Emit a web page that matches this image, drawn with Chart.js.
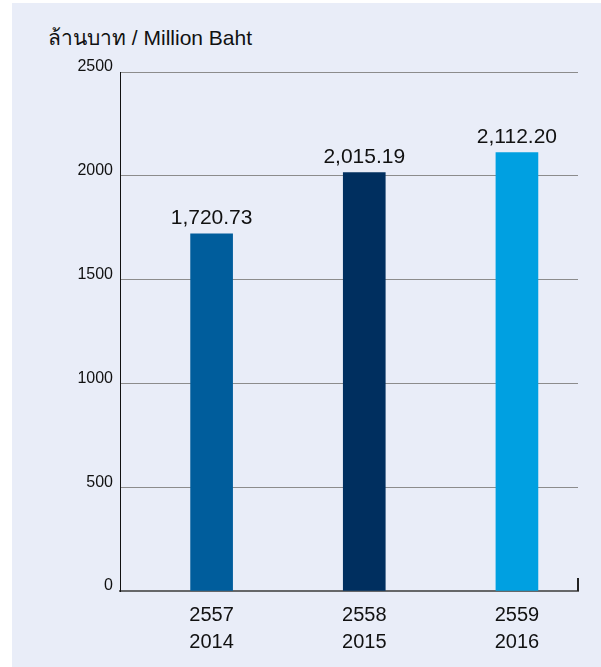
<!DOCTYPE html>
<html>
<head>
<meta charset="utf-8">
<script src="https://cdn.jsdelivr.net/npm/chart.js@4/dist/chart.umd.min.js"></script>
<style>
    body { margin: 0; background: #fff; }
    #wrap { position: relative; width: 601px; height: 667px; }
    #panel { position: absolute; left: 12px; top: 3px; right: 0; bottom: 0; background: #e9edf8; }
    #unit {
        position: absolute; left: 48px; top: 21px;
        font: 21px "Liberation Sans", Arial, sans-serif; color: #111;
    }
    canvas { position: absolute; left: 0; top: 0; }
</style>
</head>
<body>
<div id="wrap">
    <div id="panel"></div>
    <div id="unit">ล้านบาท / Million Baht</div>
    <canvas id="revChart" width="601" height="667"></canvas>
</div>
<script>
    // Revenue by year (million baht)
    const yearsBE = ['2557', '2558', '2559'];
    const yearsAD = ['2014', '2015', '2016'];
    const revenue = [1720.73, 2015.19, 2112.20];
    const barColors = ['#005d9c', '#002f5f', '#00a0e1'];
    const yTicks = [0, 500, 1000, 1500, 2000, 2500];

    const fontFamily = '"Liberation Sans", Arial, sans-serif';

    // value labels over each bar + small end tick on the baseline
    const barLabels = {
        id: 'barLabels',
        afterDatasetsDraw(chart) {
            const ctx = chart.ctx;
            const meta = chart.getDatasetMeta(0);
            ctx.save();
            ctx.font = '21px ' + fontFamily;
            ctx.fillStyle = '#111';
            ctx.textAlign = 'center';
            ctx.textBaseline = 'alphabetic';
            meta.data.forEach((bar, i) => {
                const txt = revenue[i].toLocaleString('en-US', { minimumFractionDigits: 2 });
                ctx.fillText(txt, bar.x, bar.y - 10);
            });

            const a = chart.chartArea;
            ctx.strokeStyle = '#222';
            ctx.lineWidth = 2;
            ctx.beginPath();
            ctx.moveTo(a.right, a.bottom);
            ctx.lineTo(a.right, a.bottom - 13);
            ctx.stroke();
            ctx.restore();
        }
    };

    new Chart(document.getElementById('revChart'), {
        type: 'bar',
        data: {
            datasets: [{
                data: revenue.map((v, i) => ({ x: i, y: v })),
                backgroundColor: barColors,
                barThickness: 42
            }]
        },
        options: {
            responsive: false,
            animation: false,
            layout: { padding: { top: 72, right: 23, left: 0, bottom: 0 } },
            plugins: {
                legend: { display: false },
                tooltip: { enabled: false }
            },
            scales: {
                x: {
                    type: 'linear',
                    offset: false,
                    min: -0.6,
                    max: 2.4,
                    afterBuildTicks: (scale) => {
                        scale.ticks = yearsBE.map((y, i) => ({ value: i }));
                    },
                    afterFit: (scale) => { scale.height = 76; },
                    grid: { display: false },
                    border: { display: true, color: '#666769', width: 2 },
                    ticks: {
                        padding: 3,
                        color: '#111',
                        maxRotation: 0,
                        font: { family: fontFamily, size: 20, lineHeight: 1.35 },
                        callback: (v) => [yearsBE[v], yearsAD[v]]
                    }
                },
                y: {
                    min: 0,
                    max: 2500,
                    afterBuildTicks: (scale) => {
                        scale.ticks = yTicks.map(v => ({ value: v }));
                    },
                    afterFit: (scale) => { scale.width = 120; },
                    grid: { color: '#8c8c8c', lineWidth: 1, drawTicks: false },
                    border: { display: true, color: '#111', width: 1 },
                    ticks: {
                        padding: 7,
                        labelOffset: -5,
                        color: '#111',
                        font: { family: fontFamily, size: 16 },
                        callback: (v) => String(v)
                    }
                }
            }
        },
        plugins: [barLabels]
    });
</script>
</body>
</html>
